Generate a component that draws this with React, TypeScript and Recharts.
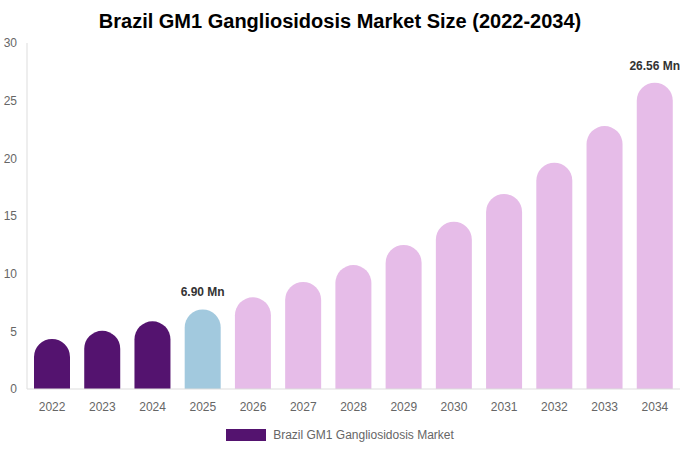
import { BarChart, Bar, XAxis, YAxis, Cell, LabelList, Legend } from 'recharts';

const years = ['2022', '2023', '2024', '2025', '2026', '2027', '2028', '2029', '2030', '2031', '2032', '2033', '2034'];
const marketSize = [4.34, 5.05, 5.87, 6.9, 7.95, 9.28, 10.75, 12.49, 14.51, 16.91, 19.62, 22.8, 26.56];
const labelledYears = ['2025', '2034'];
const yTicks = [0, 5, 10, 15, 20, 25, 30];

const HISTORIC = '#54136F';
const BASE_YEAR = '#A2C9DE';
const FORECAST = '#E6BCE8';

const data = years.map((year, i) => ({ year, value: marketSize[i] }));

const barColor = (year: string) => {
  if (year < '2025') return HISTORIC;
  if (year === '2025') return BASE_YEAR;
  return FORECAST;
};

const FONT = '"Liberation Sans", Arial, sans-serif';

const renderLabel = (props: any) => {
  const { x, y, width, value, index } = props;
  if (!labelledYears.includes(years[index])) return null;
  return (
    <text
      x={x + width / 2}
      y={y - 17}
      textAnchor="middle"
      dominantBaseline="central"
      fontSize={12}
      fontWeight="bold"
      fill="#333"
      fontFamily={FONT}
    >
      {`${Number(value).toFixed(2)} Mn`}
    </text>
  );
};

const LegendContent = () => (
  <div style={{ display: 'flex', justifyContent: 'center', alignItems: 'center', fontFamily: FONT, fontSize: 12, color: '#666', paddingTop: 9 }}>
    <span style={{ display: 'inline-block', width: 40, height: 12, background: HISTORIC, marginRight: 7 }} />
    <span>Brazil GM1 Gangliosidosis Market</span>
  </div>
);

export default function App() {
  return (
    <div style={{ position: 'absolute', left: 0, top: 0, width: 680, height: 450, background: '#fff', fontFamily: FONT }}>
      <div
        style={{
          position: 'absolute',
          top: 8,
          left: 0,
          width: 680,
          textAlign: 'center',
          fontSize: 20,
          fontWeight: 'bold',
          color: '#000',
          lineHeight: '26px',
        }}
      >
        Brazil GM1 Gangliosidosis Market Size (2022-2034)
      </div>
      <BarChart width={680} height={450} data={data} margin={{ top: 43, right: 0, bottom: 4, left: 0 }}>
        <XAxis
          dataKey="year"
          axisLine={{ stroke: '#ddd' }}
          tickLine={false}
          tick={{ fill: '#666', fontSize: 12, fontFamily: FONT }}
          tickMargin={7}
          interval={0}
        />
        <YAxis
          width={27}
          domain={[0, 30]}
          ticks={yTicks}
          axisLine={{ stroke: '#ddd' }}
          tickLine={false}
          tick={{ fill: '#666', fontSize: 12, fontFamily: FONT }}
          tickMargin={4}
        />
        <Legend content={<LegendContent />} verticalAlign="bottom" height={27} />
        <Bar dataKey="value" barSize={36} radius={[18, 18, 0, 0]} fill={HISTORIC} isAnimationActive={false}>
          {data.map((d) => (
            <Cell key={d.year} fill={barColor(d.year)} />
          ))}
          <LabelList dataKey="value" content={renderLabel} />
        </Bar>
      </BarChart>
    </div>
  );
}
